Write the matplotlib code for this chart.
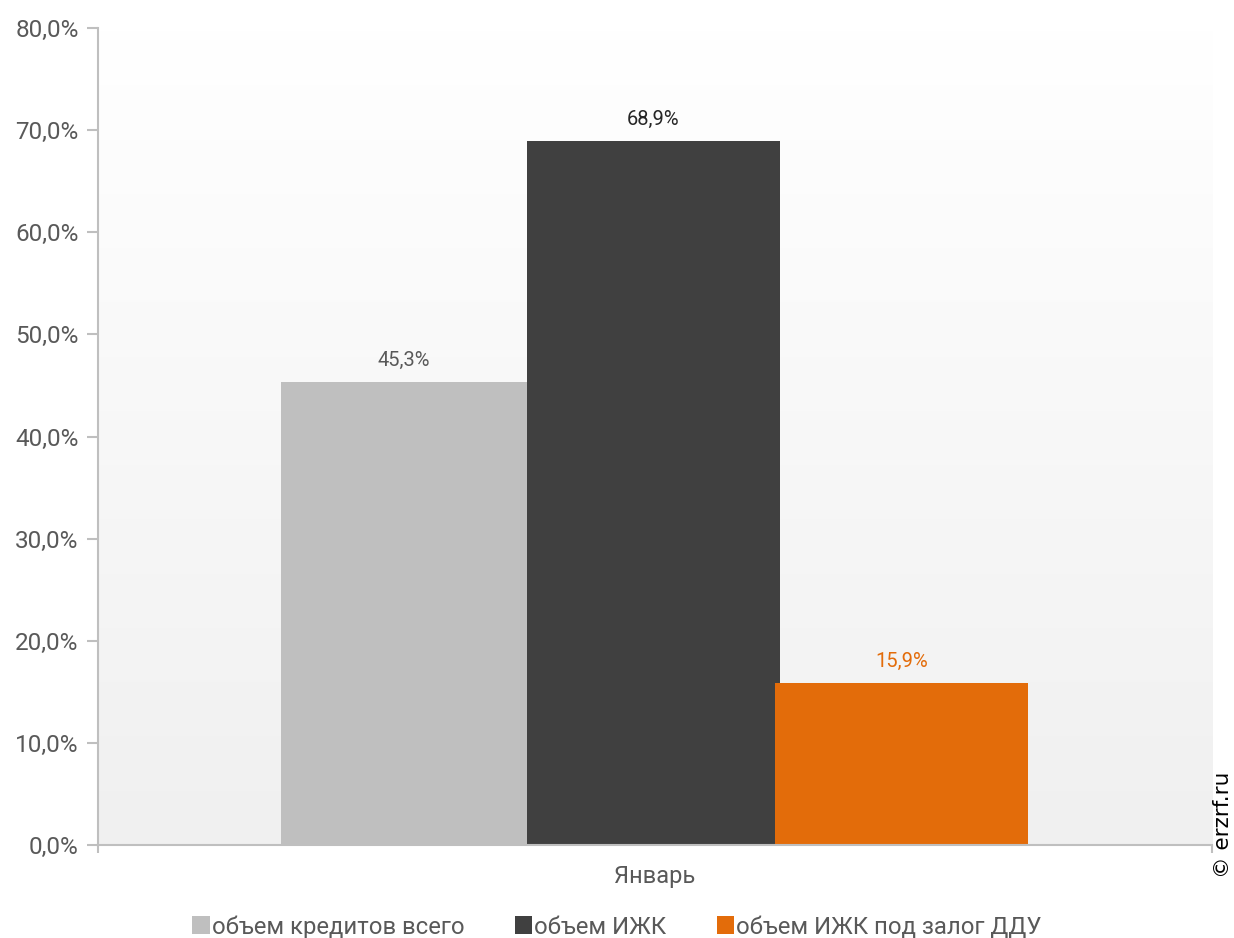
import numpy as np
import matplotlib
matplotlib.use('Agg')
import matplotlib.pyplot as plt
from matplotlib.patches import Patch
from matplotlib.colors import LinearSegmentedColormap

plt.rcParams['font.family'] = ['Roboto', 'DejaVu Sans']

# --- данные ---
category = 'Январь'
series = ['объем кредитов всего', 'объем ИЖК', 'объем ИЖК под залог ДДУ']
values = [45.3, 68.9, 15.9]
value_labels = ['45,3%', '68,9%', '15,9%']
yticks = [0, 10, 20, 30, 40, 50, 60, 70, 80]
ytick_labels = ['0,0%', '10,0%', '20,0%', '30,0%', '40,0%', '50,0%', '60,0%', '70,0%', '80,0%']

COLORS = ['#bfbfbf', '#404040', '#e36c0a']
LABEL_COLORS = ['#595959', '#262626', '#e36c0a']
TEXT = '#595959'
AXIS = '#bfbfbf'

# положение и ширина столбцов внутри группы
offsets = [-0.2253, -0.0013, 0.2213]
widths = [0.2208, 0.2271, 0.2271]

fig = plt.figure(figsize=(12.34, 9.38), dpi=100, facecolor='white')
ax = fig.add_axes([0.0794, 0.0991, 0.9028, 0.871])

# фон: градиент от белого к светло-серому
grad = np.linspace(0, 1, 256).reshape(-1, 1)
cmap = LinearSegmentedColormap.from_list('bg', ['#f0f0f0', '#ffffff'])
ax.imshow(grad, extent=[-0.5, 0.5, 0, 80], origin='lower', aspect='auto',
          cmap=cmap, zorder=0)

for i in range(len(series)):
    ax.bar(offsets[i], values[i], width=widths[i], color=COLORS[i], zorder=2)
    ax.text(offsets[i], values[i] + 1.2, value_labels[i], ha='center', va='bottom',
            color=LABEL_COLORS[i], fontsize=14.5, zorder=3)

ax.set_xlim(-0.5, 0.5)
ax.set_ylim(0, 80)
ax.set_yticks(yticks)
ax.set_yticklabels(ytick_labels)
ax.set_xticks([-0.5, 0.5])
ax.set_xticklabels(['', ''])
ax.text(0.0, -2.0, category, ha='center', va='top', color=TEXT, fontsize=17)

for s in ['top', 'right']:
    ax.spines[s].set_visible(False)
for s in ['left', 'bottom']:
    ax.spines[s].set_color(AXIS)
    ax.spines[s].set_linewidth(1.5)
ax.tick_params(axis='y', colors=AXIS, labelcolor=TEXT, labelsize=17.5, length=8,
               width=1.5, pad=6)
ax.tick_params(axis='x', colors=AXIS, length=6, width=1.5, direction='out')

handles = [Patch(facecolor=c, edgecolor='none') for c in COLORS]
leg = fig.legend(handles, series, loc='center', bbox_to_anchor=(0.5, 1 - 927 / 938),
                 ncol=3, frameon=False, fontsize=17.2, handlelength=0.72, handleheight=0.78,
                 handletextpad=0.1, columnspacing=2.1)
for t in leg.get_texts():
    t.set_color(TEXT)

fig.text(1 - 1 / 1234, 1 - 825 / 938, '© erzrf.ru', rotation=90, ha='right', va='center',
         fontsize=15.5, color='black', family=['DejaVu Sans'])

fig.savefig('out.png', dpi=100, facecolor='white')
